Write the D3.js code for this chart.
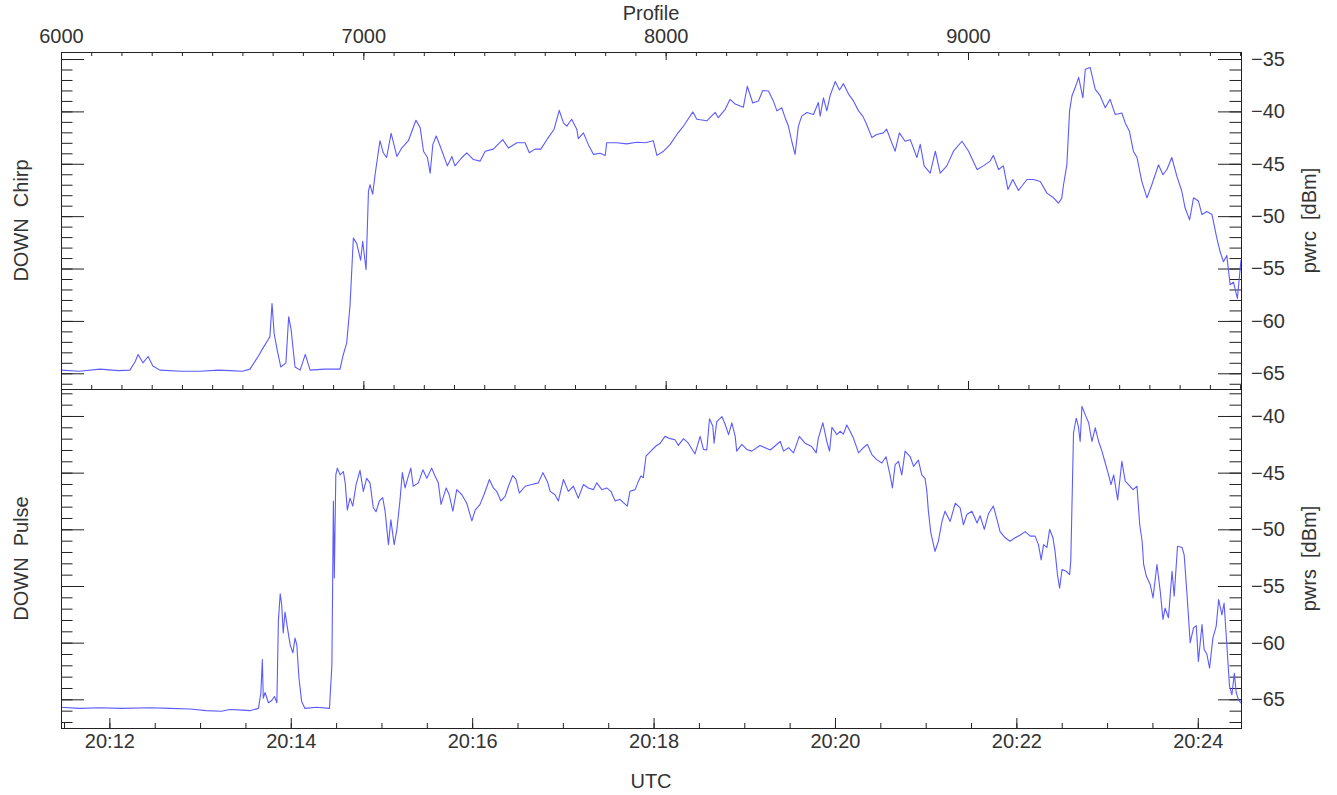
<!DOCTYPE html>
<html>
<head>
<meta charset="utf-8">
<script src="https://cdn.jsdelivr.net/npm/d3@7"></script>
<style>
	body { margin: 0; background: #fff; }
	svg text { font-family: 'Liberation Sans', Arial, sans-serif; fill: #333; }
</style>
</head>
<body>
<div id="chart"></div>
<script>
// data //
// DOWN Chirp (pwrc) against profile number
var chirpProfile = [6000, 6060, 6129, 6190, 6228, 6245, 6255, 6271, 6288, 6304, 6327, 6400, 6460, 6520, 6559, 6600, 6625, 6652, 6668, 6685, 6691, 6698, 6705, 6716, 6727, 6744, 6753, 6761, 6774, 6791, 6808, 6824, 6873, 6923, 6932, 6945, 6956, 6967, 6978, 6991, 6998, 7009, 7017, 7022, 7031, 7039, 7055, 7066, 7077, 7092, 7111, 7127, 7149, 7174, 7188, 7199, 7212, 7221, 7230, 7241, 7254, 7278, 7293, 7303, 7326, 7342, 7364, 7386, 7403, 7430, 7461, 7480, 7508, 7535, 7549, 7568, 7587, 7607, 7631, 7648, 7662, 7673, 7689, 7706, 7711, 7728, 7744, 7761, 7783, 7800, 7805, 7838, 7871, 7905, 7932, 7959, 7971, 7993, 8015, 8037, 8059, 8090, 8103, 8136, 8164, 8174, 8197, 8213, 8230, 8257, 8270, 8288, 8307, 8321, 8340, 8356, 8368, 8384, 8395, 8406, 8417, 8428, 8439, 8450, 8467, 8489, 8505, 8511, 8522, 8533, 8544, 8561, 8575, 8588, 8605, 8621, 8638, 8652, 8665, 8682, 8698, 8720, 8731, 8748, 8759, 8773, 8792, 8809, 8831, 8842, 8855, 8875, 8892, 8908, 8930, 8952, 8980, 9002, 9030, 9051, 9073, 9084, 9101, 9117, 9132, 9148, 9167, 9195, 9217, 9239, 9261, 9283, 9299, 9310, 9316, 9327, 9336, 9344, 9355, 9366, 9380, 9388, 9404, 9421, 9437, 9454, 9470, 9487, 9509, 9520, 9534, 9547, 9559, 9575, 9592, 9608, 9630, 9645, 9658, 9674, 9691, 9707, 9718, 9733, 9746, 9762, 9774, 9790, 9807, 9823, 9834, 9845, 9856, 9867, 9878, 9891, 9903]
var chirpPower = [-64.7, -64.8, -64.6, -64.75, -64.7, -63.9, -63.2, -64.0, -63.4, -64.3, -64.7, -64.8, -64.8, -64.7, -64.75, -64.8, -64.6, -63.4, -62.6, -61.8, -61.5, -58.35, -61.2, -62.9, -64.4, -64.0, -59.6, -60.8, -64.4, -64.7, -63.2, -64.7, -64.6, -64.6, -63.4, -62.1, -58.5, -52.1, -52.6, -54.2, -52.4, -55.1, -47.6, -47.0, -47.9, -46.0, -42.8, -43.95, -44.4, -42.1, -44.3, -43.5, -42.8, -40.85, -41.55, -43.8, -44.4, -45.9, -43.15, -42.35, -43.3, -45.2, -44.3, -45.2, -44.4, -43.95, -44.6, -44.75, -43.8, -43.6, -42.7, -43.5, -43.0, -43.0, -43.95, -43.6, -43.6, -42.7, -41.7, -39.9, -41.1, -41.4, -40.75, -41.7, -42.6, -42.05, -43.15, -44.1, -44.0, -44.2, -43.0, -43.0, -43.1, -42.95, -43.0, -42.8, -44.2, -43.8, -43.15, -42.2, -41.4, -40.05, -40.75, -40.9, -40.1, -40.6, -39.8, -38.85, -39.3, -39.6, -37.6, -39.2, -39.0, -38.0, -38.05, -39.0, -39.95, -39.65, -40.6, -41.4, -42.85, -44.1, -41.4, -40.45, -40.1, -40.3, -39.15, -40.45, -38.7, -39.95, -38.5, -37.15, -37.95, -37.35, -38.35, -39.0, -39.95, -40.45, -41.25, -42.5, -42.2, -42.05, -41.7, -43.0, -43.8, -42.05, -42.85, -42.7, -44.4, -43.15, -45.2, -45.9, -43.8, -45.9, -45.2, -43.8, -42.85, -43.8, -45.55, -45.2, -44.75, -44.2, -45.55, -45.2, -47.45, -46.5, -47.55, -46.5, -46.5, -46.7, -47.8, -48.25, -48.75, -48.3, -47.0, -45.1, -39.95, -38.5, -37.7, -36.75, -38.7, -35.97, -35.8, -37.9, -38.5, -39.65, -38.85, -40.3, -40.15, -41.1, -41.9, -43.8, -44.4, -46.7, -48.25, -47.0, -45.1, -46.05, -45.55, -44.4, -46.2, -47.6, -49.2, -50.35, -48.25, -48.55, -49.85, -49.55, -49.85, -52.1, -53.4, -54.35, -53.75, -56.55, -56.3, -57.85, -54.2]

// DOWN Pulse (pwrs) against profile number
var pulseProfile = [6000, 6060, 6129, 6200, 6294, 6360, 6427, 6480, 6530, 6559, 6600, 6625, 6653, 6661, 6666, 6669, 6675, 6686, 6697, 6706, 6714, 6719, 6725, 6730, 6735, 6741, 6749, 6758, 6767, 6774, 6780, 6787, 6796, 6807, 6846, 6888, 6896, 6901, 6904, 6909, 6914, 6923, 6934, 6940, 6947, 6956, 6965, 6976, 6989, 7000, 7011, 7022, 7033, 7042, 7053, 7064, 7072, 7083, 7091, 7102, 7111, 7121, 7129, 7138, 7149, 7157, 7165, 7182, 7197, 7210, 7226, 7237, 7248, 7257, 7274, 7284, 7296, 7309, 7326, 7342, 7359, 7370, 7386, 7399, 7417, 7430, 7441, 7455, 7469, 7480, 7494, 7505, 7516, 7535, 7557, 7579, 7594, 7609, 7618, 7634, 7645, 7662, 7678, 7695, 7711, 7728, 7744, 7761, 7772, 7789, 7805, 7819, 7833, 7849, 7860, 7873, 7882, 7899, 7910, 7918, 7926, 7935, 7951, 7968, 7982, 7998, 8015, 8031, 8042, 8059, 8075, 8097, 8114, 8125, 8136, 8145, 8156, 8160, 8169, 8186, 8197, 8208, 8219, 8230, 8235, 8252, 8268, 8285, 8312, 8346, 8379, 8390, 8406, 8423, 8442, 8461, 8483, 8498, 8505, 8520, 8533, 8542, 8550, 8566, 8577, 8588, 8599, 8610, 8621, 8638, 8654, 8667, 8682, 8698, 8715, 8729, 8743, 8750, 8759, 8770, 8781, 8792, 8809, 8820, 8836, 8847, 8858, 8864, 8869, 8877, 8891, 8902, 8914, 8924, 8941, 8958, 8974, 8985, 8996, 9013, 9030, 9040, 9054, 9068, 9084, 9096, 9106, 9123, 9139, 9156, 9173, 9189, 9206, 9222, 9233, 9242, 9250, 9261, 9270, 9281, 9288, 9296, 9303, 9311, 9325, 9336, 9340, 9349, 9358, 9365, 9371, 9377, 9388, 9399, 9410, 9421, 9432, 9443, 9454, 9465, 9473, 9482, 9495, 9509, 9520, 9531, 9546, 9559, 9568, 9576, 9581, 9590, 9603, 9612, 9625, 9636, 9645, 9652, 9663, 9675, 9682, 9693, 9708, 9715, 9724, 9735, 9746, 9755, 9762, 9774, 9781, 9790, 9799, 9810, 9821, 9829, 9840, 9847, 9854, 9865, 9873, 9881, 9887, 9895, 9903]
var pulsePower = [-65.7, -65.8, -65.75, -65.8, -65.75, -65.8, -65.85, -66.0, -66.05, -65.9, -65.95, -66.0, -65.8, -64.45, -61.5, -64.9, -64.4, -65.3, -65.1, -64.75, -65.3, -58.1, -55.7, -56.65, -59.15, -57.3, -58.7, -60.2, -60.9, -59.6, -60.2, -63.1, -65.2, -65.8, -65.7, -65.8, -61.95, -47.5, -54.3, -45.2, -44.6, -45.2, -44.9, -45.9, -48.3, -47.25, -47.95, -46.05, -44.8, -46.65, -45.5, -45.9, -48.1, -48.45, -47.5, -47.2, -48.4, -51.35, -49.15, -51.35, -50.0, -47.5, -45.0, -46.35, -45.3, -44.6, -46.2, -45.9, -44.75, -45.5, -44.6, -45.3, -45.9, -47.8, -46.35, -46.95, -48.4, -46.5, -46.95, -47.7, -49.25, -48.3, -47.8, -46.95, -45.6, -46.35, -46.65, -47.5, -47.1, -46.2, -45.25, -45.6, -46.8, -46.2, -46.05, -45.9, -45.0, -45.8, -46.65, -46.95, -47.5, -45.6, -46.65, -46.2, -47.25, -46.05, -46.35, -46.5, -45.9, -46.5, -46.35, -46.65, -47.5, -47.35, -47.65, -47.95, -46.65, -46.5, -45.75, -45.3, -45.45, -43.55, -43.1, -42.65, -42.4, -41.8, -42.0, -42.1, -42.6, -42.0, -42.4, -43.35, -41.8, -42.95, -43.0, -40.25, -40.9, -42.4, -40.5, -40.05, -40.75, -41.65, -40.6, -41.8, -43.1, -42.5, -42.95, -43.1, -42.6, -43.0, -42.25, -43.1, -42.8, -43.25, -41.8, -42.4, -42.7, -43.25, -41.95, -40.6, -42.25, -43.1, -41.0, -41.65, -41.35, -41.6, -40.8, -41.35, -41.95, -43.25, -42.8, -42.5, -43.4, -43.85, -44.15, -43.6, -45.3, -46.35, -44.3, -44.0, -45.2, -43.1, -43.6, -44.45, -43.9, -45.2, -45.5, -46.65, -48.4, -50.3, -51.95, -51.05, -49.3, -48.4, -49.3, -47.7, -48.1, -49.6, -48.7, -48.4, -49.45, -48.8, -50.0, -48.6, -47.95, -49.15, -50.2, -50.75, -51.05, -50.75, -50.5, -50.2, -50.6, -50.6, -51.35, -52.7, -51.35, -51.6, -50.0, -50.75, -51.95, -54.0, -55.2, -53.55, -53.7, -54.0, -52.8, -41.5, -40.2, -40.9, -42.25, -39.15, -39.9, -40.6, -42.25, -41.05, -42.25, -43.1, -44.15, -45.2, -46.05, -45.2, -47.4, -44.0, -45.75, -46.05, -46.5, -46.2, -49.6, -51.05, -53.1, -54.15, -54.9, -56.05, -53.1, -55.5, -57.95, -56.95, -57.8, -53.7, -55.9, -51.5, -51.6, -52.25, -55.6, -60.0, -58.7, -58.5, -61.65, -58.4, -60.6, -61.0, -62.25, -59.6, -58.55, -56.2, -57.55, -56.5, -59.3, -63.85, -64.6, -62.7, -64.4, -65.05, -65.35]

// ticks
var profileMajor = [6000, 7000, 8000, 9000]
var chirpMajor = [-35, -40, -45, -50, -55, -60, -65]
var pulseMajor = [-40, -45, -50, -55, -60, -65]

// 5 profiles per second, first profile at 20:11:28
var startTime = new Date(2000, 0, 1, 20, 11, 28),
		secondsPerProfile = 0.2,
		profileRange = [6000, 9903]

var timeOf = function(p) {
	return new Date(startTime.getTime() + (p - profileRange[0]) * secondsPerProfile * 1000)
}

// add svg tag //
var visWidth = 1337,
		visHeight = 795,
		left = 61,
		right = 1241,
		top1 = 52,
		mid = 389,
		bottom2 = 728,
		fontSize = 20,
		lineColor = '#5b5bff',
		axisColor = '#222'

var vis = d3.select('#chart')
	.append('svg')
		.attr('width', visWidth)
		.attr('height', visHeight)

var defs = vis.append('defs')

// scales //
var x = d3.scaleLinear()
	.domain(profileRange)
	.range([left, right])

var t = d3.scaleTime()
	.domain(profileRange.map(timeOf))
	.range([left, right])

var yChirp = d3.scaleLinear()
	.domain([-34.33, -66.5])
	.range([top1, mid])

var yPulse = d3.scaleLinear()
	.domain([-37.62, -67.53])
	.range([mid, bottom2])

var minorRange = function(scale) {
	var d = scale.domain()
	return d3.range(Math.ceil(Math.min(d[0], d[1])), Math.floor(Math.max(d[0], d[1])) + 1)
}

// axis helper: draws ticks, keeps labels only when asked
var drawAxis = function(axis, tx, ty, keepLabels) {
	var g = vis.append('g')
		.attr('transform', 'translate(' + tx + ',' + ty + ')')
		.call(axis)
	g.select('.domain').remove()
	g.selectAll('line')
		.attr('stroke', axisColor)
	g.selectAll('text')
		.attr('font-size', fontSize)
		.attr('fill', '#333')
		.attr('font-family', 'Liberation Sans, Arial, sans-serif')
	if (!keepLabels) g.selectAll('text').remove()
	return g
}

// profile axis (top) //
drawAxis(d3.axisTop(x).tickValues(d3.range(6000, 9901, 100)).tickSize(-4), 0, top1, false)
drawAxis(d3.axisTop(x).tickValues(profileMajor).tickSize(-8).tickPadding(9).tickFormat(d3.format('d')), 0, top1, true)

// profile ticks on the lower edge of the top panel
drawAxis(d3.axisBottom(x).tickValues(d3.range(6000, 9901, 100)).tickSize(-4), 0, mid, false)
drawAxis(d3.axisBottom(x).tickValues(profileMajor).tickSize(-8), 0, mid, false)

// time axis (bottom) //
drawAxis(d3.axisBottom(t).ticks(d3.timeSecond.every(30)).tickSize(-5), 0, bottom2, false)
drawAxis(d3.axisBottom(t).ticks(d3.timeMinute.every(2)).tickSize(-10).tickPadding(6).tickFormat(d3.timeFormat('%H:%M')), 0, bottom2, true)

// y axes for both panels //
var panels = [
	{ scale: yChirp, major: chirpMajor, name: 'pwrc  [dBm]', title: 'DOWN  Chirp', prof: chirpProfile, power: chirpPower, y0: top1, y1: mid, id: 'clip_chirp' },
	{ scale: yPulse, major: pulseMajor, name: 'pwrs  [dBm]', title: 'DOWN  Pulse', prof: pulseProfile, power: pulsePower, y0: mid, y1: bottom2, id: 'clip_pulse' }
]

panels.forEach(function(p) {
	// left side
	drawAxis(d3.axisLeft(p.scale).tickValues(minorRange(p.scale)).tickSize(-11.5), left, 0, false)
	drawAxis(d3.axisLeft(p.scale).tickValues(p.major).tickSize(-23), left, 0, false)
	// right side with labels
	drawAxis(d3.axisRight(p.scale).tickValues(minorRange(p.scale)).tickSize(-11.5), right, 0, false)
	drawAxis(d3.axisRight(p.scale).tickValues(p.major).tickSize(-23).tickPadding(10).tickFormat(d3.format('d')), right, 0, true)

	var yc = (p.y0 + p.y1) / 2

	vis.append('text')
		.attr('transform', 'translate(1316,' + yc + ') rotate(-90)')
		.attr('text-anchor', 'middle')
		.attr('font-size', fontSize)
		.style('white-space', 'pre')
		.text(p.name)

	vis.append('text')
		.attr('transform', 'translate(28,' + yc + ') rotate(-90)')
		.attr('text-anchor', 'middle')
		.attr('font-size', fontSize)
		.style('white-space', 'pre')
		.text(p.title)

	// clip and trace
	defs.append('clipPath')
		.attr('id', p.id)
		.append('rect')
			.attr('x', left)
			.attr('y', p.y0)
			.attr('width', right - left)
			.attr('height', p.y1 - p.y0)

	var line = d3.line()
		.x(function(d) { return x(d[0]) })
		.y(function(d) { return p.scale(d[1]) })

	vis.append('path')
		.datum(d3.zip(p.prof, p.power))
		.attr('clip-path', 'url(#' + p.id + ')')
		.attr('fill', 'none')
		.attr('stroke', lineColor)
		.attr('stroke-width', 1.1)
		.attr('stroke-linejoin', 'round')
		.attr('d', line)
})

// frame //
vis.append('rect')
	.attr('x', left + 0.5)
	.attr('y', top1 + 0.5)
	.attr('width', right - left)
	.attr('height', bottom2 - top1)
	.attr('fill', 'none')
	.attr('stroke', axisColor)

vis.append('line')
	.attr('x1', left)
	.attr('x2', right)
	.attr('y1', mid + 0.5)
	.attr('y2', mid + 0.5)
	.attr('stroke', axisColor)

// axis titles //
vis.append('text')
	.attr('x', (left + right) / 2)
	.attr('y', 20)
	.attr('text-anchor', 'middle')
	.attr('font-size', fontSize)
	.text('Profile')

vis.append('text')
	.attr('x', (left + right) / 2)
	.attr('y', 788)
	.attr('text-anchor', 'middle')
	.attr('font-size', fontSize)
	.text('UTC')
</script>
</body>
</html>
